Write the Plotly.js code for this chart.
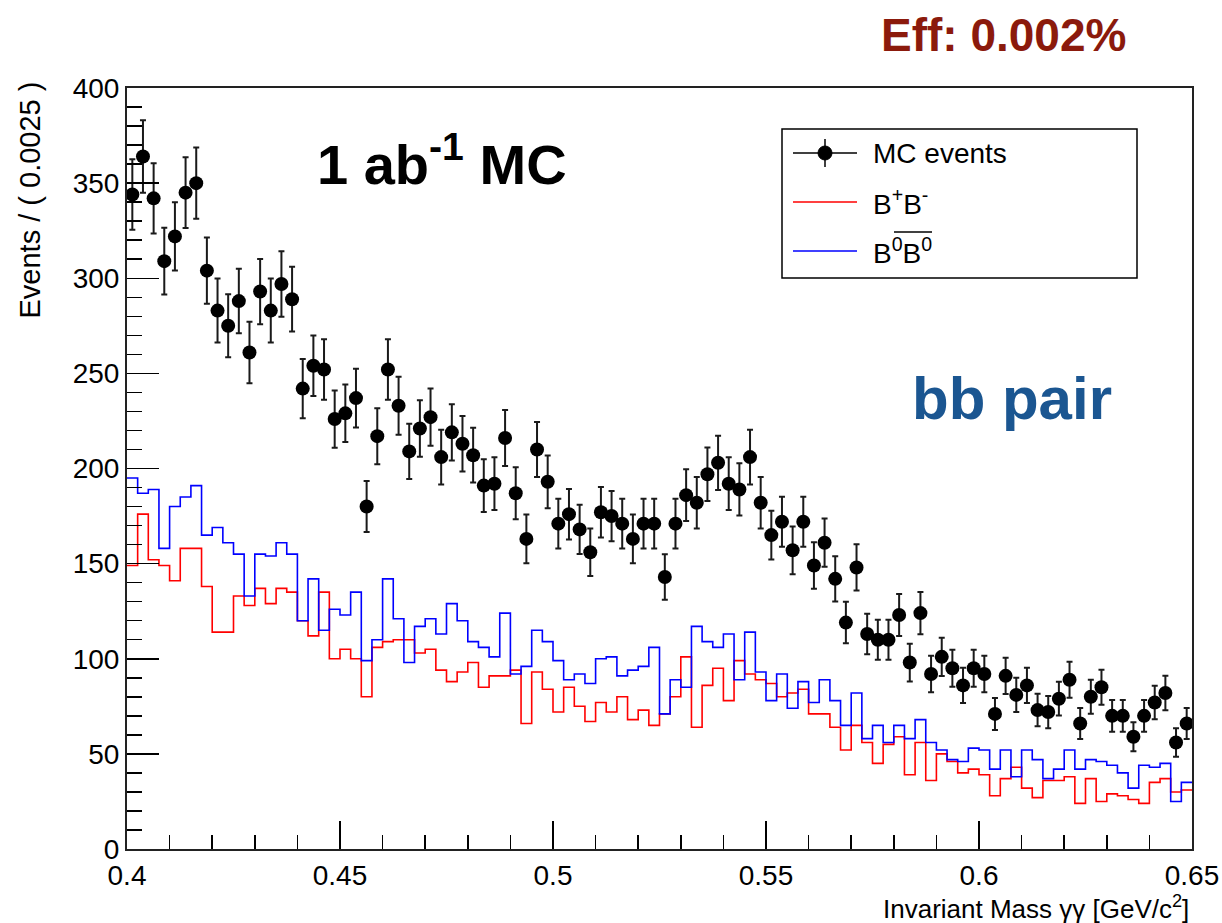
<!DOCTYPE html>
<html>
<head>
<meta charset="utf-8">
<script src="https://cdn.plot.ly/plotly-3.0.1.min.js"></script>
<style>html,body{margin:0;padding:0;background:#fff}#chart{width:1222px;height:923px}</style>
</head>
<body>
<div id="chart"></div>
<script>
// Binning of the histogram (RooFit frame: 100 bins of 0.0025 GeV/c^2 from 0.4 to 0.65)
const binLow = 0.4;
const binWidth = 0.0025;

// MC events (black points, Poisson errors)
const mcEvents = [
  344, 364, 342, 309, 322, 345, 350, 304, 283, 275,
  288, 261, 293, 283, 297, 289, 242, 254, 252, 226,
  229, 237, 180, 217, 252, 233, 209, 221, 227, 206,
  219, 213, 207, 191, 192, 216, 187, 163, 210, 193,
  171, 176, 168, 156, 177, 175, 171, 163, 171, 171,
  143, 171, 186, 182, 197, 203, 192, 189, 206, 182,
  165, 172, 157, 172, 149, 161, 142, 119, 148, 113,
  110, 110, 123, 98, 124, 92, 101, 95, 86, 95,
  92, 71, 91, 81, 86, 73, 72, 79, 89, 66,
  80, 85, 70, 70, 59, 70, 77, 82, 56, 66
];

// B+B- component (red step line)
const bPlusBMinus = [
  149, 176, 152, 149, 141, 158, 158, 138, 114, 114,
  133, 128, 137, 129, 137, 135, 120, 112, 135, 100,
  105, 100, 80, 106, 109, 110, 110, 103, 105, 94,
  88, 93, 98, 85, 91, 91, 94, 66, 93, 84,
  72, 85, 75, 67, 77, 72, 80, 68, 73, 65,
  71, 80, 101, 64, 86, 95, 78, 99, 92, 89,
  87, 80, 82, 84, 71, 71, 64, 52, 65, 56,
  45, 55, 59, 39, 56, 36, 50, 46, 40, 42,
  39, 28, 37, 43, 32, 27, 36, 36, 38, 24,
  37, 25, 29, 28, 26, 24, 35, 37, 30, 31
];

// B0 B0bar component (blue step line)
const bZeroBZeroBar = [
  195, 187, 189, 158, 180, 185, 191, 165, 169, 161,
  155, 133, 155, 154, 161, 155, 120, 142, 115, 126,
  123, 135, 99, 110, 142, 121, 98, 117, 121, 113,
  129, 120, 109, 106, 101, 124, 92, 96, 115, 109,
  99, 89, 92, 87, 100, 101, 91, 94, 96, 106,
  71, 89, 85, 117, 109, 106, 113, 89, 114, 93,
  78, 92, 74, 88, 77, 89, 78, 65, 82, 58,
  65, 56, 65, 58, 68, 56, 52, 47, 46, 53,
  52, 42, 52, 38, 52, 47, 37, 42, 52, 42,
  47, 46, 44, 40, 32, 44, 43, 45, 25, 35
];

const legendLabels = ['MC events', 'B<sup>+</sup>B<sup>-</sup>', 'B<sup>0</sup>B<sup>0</sup>'];

const nBins = mcEvents.length;
const binCenters = mcEvents.map((_, i) => binLow + (i + 0.5) * binWidth);
const binEdges = mcEvents.map((_, i) => binLow + i * binWidth).concat([binLow + nBins * binWidth]);
const stepValues = arr => arr.concat([arr[arr.length - 1]]);

const FONT = 'Liberation Sans, Arial, Helvetica, sans-serif';

const traces = [
  {
    type: 'scatter', mode: 'lines', name: 'B+B-',
    x: binEdges, y: stepValues(bPlusBMinus),
    line: {shape: 'hv', color: '#ff0000', width: 1.6},
    hoverinfo: 'skip'
  },
  {
    type: 'scatter', mode: 'lines', name: 'B0B0bar',
    x: binEdges, y: stepValues(bZeroBZeroBar),
    line: {shape: 'hv', color: '#0000ff', width: 1.6},
    hoverinfo: 'skip'
  },
  {
    type: 'scatter', mode: 'markers', name: 'MC events',
    x: binCenters, y: mcEvents,
    marker: {color: '#000', size: 14},
    error_y: {type: 'sqrt', visible: true, color: '#1a1a1a', thickness: 2, width: 3}
  }
];

// pixel -> paper helpers for the plot frame (127..1192 x, 88..849 y)
const L = 127, R = 1192, T = 88, B = 849;
const px = x => (x - L) / (R - L);
const py = y => (B - y) / (B - T);

const legendRows = [153, 202, 251];
const shapes = [
  {type: 'rect', xref: 'paper', yref: 'paper', x0: px(782), x1: px(1137), y0: py(278), y1: py(129),
   line: {color: '#000', width: 1.5}, fillcolor: 'rgba(255,255,255,1)', layer: 'above'},
  {type: 'line', xref: 'paper', yref: 'paper', x0: px(793), x1: px(857), y0: py(legendRows[0]), y1: py(legendRows[0]),
   line: {color: '#000', width: 1.5}},
  {type: 'line', xref: 'paper', yref: 'paper', x0: px(825), x1: px(825), y0: py(167), y1: py(139),
   line: {color: '#000', width: 1.5}},
  {type: 'circle', xref: 'paper', yref: 'paper', x0: px(818), x1: px(832), y0: py(legendRows[0] + 7), y1: py(legendRows[0] - 7),
   line: {color: '#000', width: 1}, fillcolor: '#000'},
  {type: 'line', xref: 'paper', yref: 'paper', x0: px(793), x1: px(857), y0: py(legendRows[1]), y1: py(legendRows[1]),
   line: {color: '#ff0000', width: 1.5}},
  {type: 'line', xref: 'paper', yref: 'paper', x0: px(793), x1: px(857), y0: py(legendRows[2]), y1: py(legendRows[2]),
   line: {color: '#0000ff', width: 1.5}},
  // overline of the anti-B0
  {type: 'line', xref: 'paper', yref: 'paper', x0: px(894), x1: px(932), y0: py(232), y1: py(232),
   line: {color: '#000', width: 1.5}}
];

const annotations = [
  {text: 'Eff: 0.002%', xref: 'paper', yref: 'paper', x: px(1003), y: py(35), xanchor: 'center', yanchor: 'middle',
   showarrow: false, font: {family: FONT, size: 46, color: '#8b1a0c', weight: 'bold'}},
  {text: '<b>1 ab<sup>-1</sup> MC</b>', xref: 'paper', yref: 'paper', x: px(442), y: py(160), xanchor: 'center', yanchor: 'middle',
   showarrow: false, font: {family: FONT, size: 56, color: '#000'}},
  {text: '<b>bb pair</b>', xref: 'paper', yref: 'paper', x: px(1012), y: py(398), xanchor: 'center', yanchor: 'middle',
   showarrow: false, font: {family: FONT, size: 60, color: '#1b5691'}},
  {text: 'Events / ( 0.0025 )', xref: 'paper', yref: 'paper', x: px(30), y: py(80), xanchor: 'center', yanchor: 'top',
   textangle: -90, showarrow: false, font: {family: FONT, size: 29, color: '#000'}},
  {text: 'Invariant Mass \u03b3\u03b3 [GeV/c<sup>2</sup>]', xref: 'paper', yref: 'paper', x: px(1191), y: py(907), xanchor: 'right', yanchor: 'middle',
   showarrow: false, font: {family: FONT, size: 26, color: '#000'}},
  {text: legendLabels[0], xref: 'paper', yref: 'paper', x: px(871), y: py(legendRows[0]), xanchor: 'left', yanchor: 'middle',
   showarrow: false, font: {family: FONT, size: 28, color: '#000'}},
  {text: legendLabels[1], xref: 'paper', yref: 'paper', x: px(871), y: py(legendRows[1]), xanchor: 'left', yanchor: 'middle',
   showarrow: false, font: {family: FONT, size: 28, color: '#000'}},
  {text: legendLabels[2], xref: 'paper', yref: 'paper', x: px(871), y: py(legendRows[2]), xanchor: 'left', yanchor: 'middle',
   showarrow: false, font: {family: FONT, size: 28, color: '#000'}}
];

const layout = {
  width: 1222, height: 923,
  paper_bgcolor: '#fff', plot_bgcolor: '#fff',
  margin: {l: L, r: 1222 - R, t: T, b: 923 - B},
  showlegend: false,
  font: {family: FONT, color: '#000'},
  xaxis: {
    range: [0.4, 0.65], tickmode: 'linear', tick0: 0.4, dtick: 0.05,
    ticks: 'inside', ticklen: 28, tickwidth: 1.5, tickcolor: '#000',
    minor: {ticks: 'inside', ticklen: 14, dtick: 0.01, tickwidth: 1.5, tickcolor: '#000', showgrid: false},
    showline: true, mirror: true, linecolor: '#222', linewidth: 2,
    showgrid: false, zeroline: false,
    tickfont: {family: FONT, size: 28, color: '#000'}
  },
  yaxis: {
    range: [0, 400], tickmode: 'linear', tick0: 0, dtick: 50,
    ticks: 'inside', ticklen: 32, tickwidth: 1.5, tickcolor: '#000',
    minor: {ticks: 'inside', ticklen: 15, dtick: 10, tickwidth: 1.5, tickcolor: '#000', showgrid: false},
    showline: true, mirror: true, linecolor: '#222', linewidth: 2,
    showgrid: false, zeroline: false,
    tickfont: {family: FONT, size: 28, color: '#000'}
  },
  shapes: shapes,
  annotations: annotations
};

Plotly.newPlot('chart', traces, layout, {displayModeBar: false, staticPlot: true});
</script>
</body>
</html>
